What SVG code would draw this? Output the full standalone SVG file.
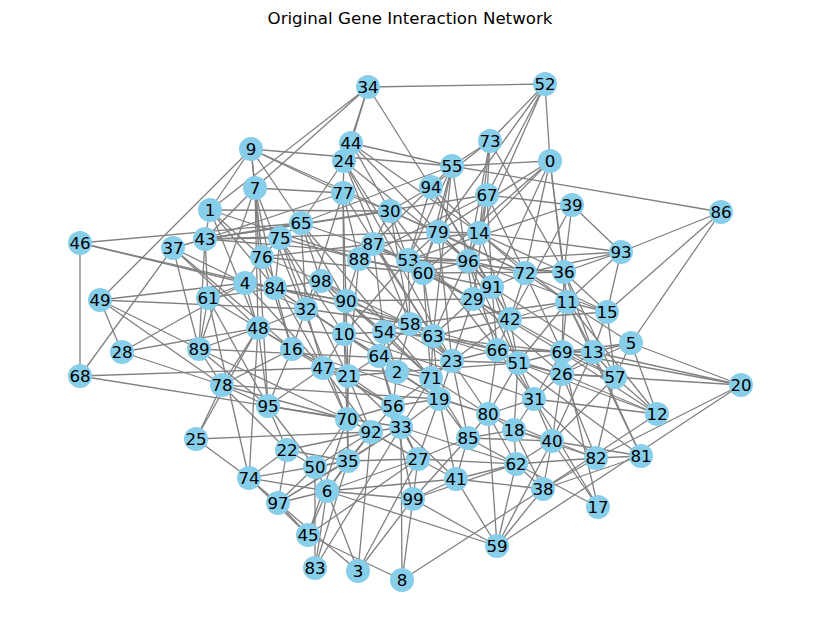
<svg xmlns="http://www.w3.org/2000/svg" width="819" height="642" viewBox="0 0 819 642">
<style>
.bg{fill:#ffffff}
.title{font-family:"DejaVu Sans","Liberation Sans",sans-serif;font-size:16.67px;fill:#000;text-anchor:middle}
#edges line{stroke:#808080;stroke-width:1.3}
.node circle{fill:#87CEEB}
.node text{font-family:"DejaVu Sans","Liberation Sans",sans-serif;font-size:16.67px;fill:#000;text-anchor:middle}
</style>
<rect class="bg" x="0" y="0" width="819" height="642"/>
<text class="title" x="410" y="24">Original Gene Interaction Network</text>
<g id="edges">
<line x1="368" y1="87" x2="545" y2="84"/>
<line x1="368" y1="87" x2="351" y2="143"/>
<line x1="368" y1="87" x2="344" y2="161"/>
<line x1="368" y1="87" x2="255" y2="188"/>
<line x1="368" y1="87" x2="210" y2="210"/>
<line x1="368" y1="87" x2="431" y2="187"/>
<line x1="545" y1="84" x2="550" y2="161"/>
<line x1="545" y1="84" x2="490" y2="141"/>
<line x1="545" y1="84" x2="487" y2="195"/>
<line x1="545" y1="84" x2="438" y2="232"/>
<line x1="545" y1="84" x2="479" y2="233"/>
<line x1="490" y1="141" x2="452" y2="166"/>
<line x1="490" y1="141" x2="431" y2="187"/>
<line x1="490" y1="141" x2="487" y2="195"/>
<line x1="490" y1="141" x2="479" y2="233"/>
<line x1="490" y1="141" x2="468" y2="261"/>
<line x1="490" y1="141" x2="564" y2="272"/>
<line x1="550" y1="161" x2="452" y2="166"/>
<line x1="550" y1="161" x2="479" y2="233"/>
<line x1="550" y1="161" x2="438" y2="232"/>
<line x1="550" y1="161" x2="423" y2="273"/>
<line x1="550" y1="161" x2="564" y2="272"/>
<line x1="550" y1="161" x2="567" y2="302"/>
<line x1="550" y1="161" x2="525" y2="273"/>
<line x1="550" y1="161" x2="492" y2="287"/>
<line x1="721" y1="212" x2="452" y2="166"/>
<line x1="721" y1="212" x2="621" y2="252"/>
<line x1="721" y1="212" x2="607" y2="312"/>
<line x1="721" y1="212" x2="631" y2="343"/>
<line x1="621" y1="252" x2="564" y2="272"/>
<line x1="621" y1="252" x2="525" y2="273"/>
<line x1="621" y1="252" x2="479" y2="233"/>
<line x1="621" y1="252" x2="567" y2="302"/>
<line x1="621" y1="252" x2="607" y2="312"/>
<line x1="621" y1="252" x2="468" y2="261"/>
<line x1="572" y1="205" x2="487" y2="195"/>
<line x1="572" y1="205" x2="564" y2="272"/>
<line x1="572" y1="205" x2="621" y2="252"/>
<line x1="572" y1="205" x2="408" y2="260"/>
<line x1="572" y1="205" x2="510" y2="319"/>
<line x1="741" y1="385" x2="631" y2="343"/>
<line x1="741" y1="385" x2="562" y2="352"/>
<line x1="741" y1="385" x2="562" y2="374"/>
<line x1="741" y1="385" x2="596" y2="458"/>
<line x1="741" y1="385" x2="497" y2="546"/>
<line x1="741" y1="385" x2="593" y2="352"/>
<line x1="641" y1="456" x2="596" y2="458"/>
<line x1="641" y1="456" x2="552" y2="441"/>
<line x1="641" y1="456" x2="543" y2="489"/>
<line x1="641" y1="456" x2="567" y2="302"/>
<line x1="641" y1="456" x2="593" y2="352"/>
<line x1="657" y1="414" x2="543" y2="489"/>
<line x1="657" y1="414" x2="615" y2="377"/>
<line x1="657" y1="414" x2="631" y2="343"/>
<line x1="657" y1="414" x2="562" y2="352"/>
<line x1="657" y1="414" x2="562" y2="374"/>
<line x1="657" y1="414" x2="567" y2="302"/>
<line x1="657" y1="414" x2="534" y2="399"/>
<line x1="598" y1="507" x2="534" y2="399"/>
<line x1="598" y1="507" x2="562" y2="352"/>
<line x1="598" y1="507" x2="516" y2="464"/>
<line x1="497" y1="546" x2="413" y2="499"/>
<line x1="497" y1="546" x2="456" y2="479"/>
<line x1="497" y1="546" x2="488" y2="414"/>
<line x1="497" y1="546" x2="516" y2="464"/>
<line x1="497" y1="546" x2="543" y2="489"/>
<line x1="497" y1="546" x2="552" y2="441"/>
<line x1="497" y1="546" x2="327" y2="491"/>
<line x1="402" y1="580" x2="543" y2="489"/>
<line x1="402" y1="580" x2="413" y2="499"/>
<line x1="402" y1="580" x2="308" y2="535"/>
<line x1="402" y1="580" x2="401" y2="427"/>
<line x1="358" y1="571" x2="278" y2="503"/>
<line x1="358" y1="571" x2="327" y2="491"/>
<line x1="358" y1="571" x2="418" y2="459"/>
<line x1="358" y1="571" x2="371" y2="432"/>
<line x1="315" y1="568" x2="315" y2="467"/>
<line x1="315" y1="568" x2="348" y2="461"/>
<line x1="315" y1="568" x2="401" y2="427"/>
<line x1="308" y1="535" x2="249" y2="478"/>
<line x1="308" y1="535" x2="278" y2="503"/>
<line x1="308" y1="535" x2="327" y2="491"/>
<line x1="308" y1="535" x2="347" y2="419"/>
<line x1="278" y1="503" x2="287" y2="450"/>
<line x1="278" y1="503" x2="315" y2="467"/>
<line x1="278" y1="503" x2="327" y2="491"/>
<line x1="278" y1="503" x2="348" y2="461"/>
<line x1="278" y1="503" x2="249" y2="478"/>
<line x1="249" y1="478" x2="196" y2="439"/>
<line x1="249" y1="478" x2="287" y2="450"/>
<line x1="249" y1="478" x2="327" y2="491"/>
<line x1="249" y1="478" x2="258" y2="328"/>
<line x1="249" y1="478" x2="208" y2="298"/>
<line x1="196" y1="439" x2="222" y2="385"/>
<line x1="196" y1="439" x2="371" y2="432"/>
<line x1="196" y1="439" x2="258" y2="328"/>
<line x1="80" y1="376" x2="80" y2="243"/>
<line x1="80" y1="376" x2="173" y2="248"/>
<line x1="80" y1="376" x2="323" y2="368"/>
<line x1="80" y1="376" x2="268" y2="406"/>
<line x1="122" y1="352" x2="100" y2="300"/>
<line x1="122" y1="352" x2="245" y2="283"/>
<line x1="122" y1="352" x2="258" y2="328"/>
<line x1="122" y1="352" x2="222" y2="385"/>
<line x1="100" y1="300" x2="251" y2="149"/>
<line x1="100" y1="300" x2="306" y2="309"/>
<line x1="100" y1="300" x2="199" y2="349"/>
<line x1="100" y1="300" x2="222" y2="385"/>
<line x1="100" y1="300" x2="245" y2="283"/>
<line x1="80" y1="243" x2="301" y2="223"/>
<line x1="80" y1="243" x2="245" y2="283"/>
<line x1="80" y1="243" x2="275" y2="288"/>
<line x1="173" y1="248" x2="205" y2="239"/>
<line x1="173" y1="248" x2="199" y2="349"/>
<line x1="173" y1="248" x2="258" y2="328"/>
<line x1="173" y1="248" x2="292" y2="349"/>
<line x1="210" y1="210" x2="251" y2="149"/>
<line x1="210" y1="210" x2="205" y2="239"/>
<line x1="210" y1="210" x2="390" y2="211"/>
<line x1="210" y1="210" x2="262" y2="257"/>
<line x1="210" y1="210" x2="275" y2="288"/>
<line x1="210" y1="210" x2="258" y2="328"/>
<line x1="251" y1="149" x2="452" y2="166"/>
<line x1="251" y1="149" x2="301" y2="223"/>
<line x1="251" y1="149" x2="390" y2="211"/>
<line x1="251" y1="149" x2="343" y2="193"/>
<line x1="251" y1="149" x2="255" y2="188"/>
<line x1="255" y1="188" x2="343" y2="193"/>
<line x1="255" y1="188" x2="205" y2="239"/>
<line x1="255" y1="188" x2="262" y2="257"/>
<line x1="255" y1="188" x2="275" y2="288"/>
<line x1="255" y1="188" x2="258" y2="328"/>
<line x1="255" y1="188" x2="268" y2="406"/>
<line x1="255" y1="188" x2="199" y2="349"/>
<line x1="351" y1="143" x2="452" y2="166"/>
<line x1="351" y1="143" x2="479" y2="233"/>
<line x1="351" y1="143" x2="390" y2="211"/>
<line x1="351" y1="143" x2="438" y2="232"/>
<line x1="344" y1="161" x2="343" y2="193"/>
<line x1="344" y1="161" x2="301" y2="223"/>
<line x1="344" y1="161" x2="408" y2="260"/>
<line x1="344" y1="161" x2="468" y2="261"/>
<line x1="344" y1="161" x2="410" y2="324"/>
<line x1="452" y1="166" x2="431" y2="187"/>
<line x1="452" y1="166" x2="438" y2="232"/>
<line x1="452" y1="166" x2="423" y2="273"/>
<line x1="452" y1="166" x2="433" y2="336"/>
<line x1="452" y1="166" x2="473" y2="299"/>
<line x1="452" y1="166" x2="408" y2="260"/>
<line x1="452" y1="166" x2="301" y2="223"/>
<line x1="431" y1="187" x2="390" y2="211"/>
<line x1="431" y1="187" x2="373" y2="244"/>
<line x1="431" y1="187" x2="408" y2="260"/>
<line x1="431" y1="187" x2="479" y2="233"/>
<line x1="431" y1="187" x2="492" y2="287"/>
<line x1="431" y1="187" x2="510" y2="319"/>
<line x1="487" y1="195" x2="479" y2="233"/>
<line x1="487" y1="195" x2="492" y2="287"/>
<line x1="487" y1="195" x2="525" y2="273"/>
<line x1="487" y1="195" x2="205" y2="239"/>
<line x1="487" y1="195" x2="359" y2="259"/>
<line x1="487" y1="195" x2="473" y2="299"/>
<line x1="343" y1="193" x2="359" y2="259"/>
<line x1="343" y1="193" x2="346" y2="301"/>
<line x1="343" y1="193" x2="306" y2="309"/>
<line x1="343" y1="193" x2="344" y2="334"/>
<line x1="343" y1="193" x2="390" y2="211"/>
<line x1="343" y1="193" x2="205" y2="239"/>
<line x1="390" y1="211" x2="373" y2="244"/>
<line x1="390" y1="211" x2="408" y2="260"/>
<line x1="390" y1="211" x2="438" y2="232"/>
<line x1="390" y1="211" x2="205" y2="239"/>
<line x1="390" y1="211" x2="525" y2="273"/>
<line x1="390" y1="211" x2="410" y2="324"/>
<line x1="301" y1="223" x2="280" y2="238"/>
<line x1="301" y1="223" x2="205" y2="239"/>
<line x1="301" y1="223" x2="321" y2="281"/>
<line x1="301" y1="223" x2="306" y2="309"/>
<line x1="301" y1="223" x2="346" y2="301"/>
<line x1="301" y1="223" x2="408" y2="260"/>
<line x1="205" y1="239" x2="280" y2="238"/>
<line x1="205" y1="239" x2="468" y2="261"/>
<line x1="205" y1="239" x2="438" y2="232"/>
<line x1="205" y1="239" x2="208" y2="298"/>
<line x1="205" y1="239" x2="199" y2="349"/>
<line x1="438" y1="232" x2="479" y2="233"/>
<line x1="438" y1="232" x2="468" y2="261"/>
<line x1="438" y1="232" x2="408" y2="260"/>
<line x1="438" y1="232" x2="492" y2="287"/>
<line x1="438" y1="232" x2="452" y2="361"/>
<line x1="438" y1="232" x2="379" y2="356"/>
<line x1="479" y1="233" x2="468" y2="261"/>
<line x1="479" y1="233" x2="525" y2="273"/>
<line x1="479" y1="233" x2="567" y2="302"/>
<line x1="479" y1="233" x2="510" y2="319"/>
<line x1="479" y1="233" x2="564" y2="272"/>
<line x1="479" y1="233" x2="433" y2="336"/>
<line x1="280" y1="238" x2="262" y2="257"/>
<line x1="280" y1="238" x2="275" y2="288"/>
<line x1="280" y1="238" x2="306" y2="309"/>
<line x1="280" y1="238" x2="344" y2="334"/>
<line x1="280" y1="238" x2="359" y2="259"/>
<line x1="373" y1="244" x2="359" y2="259"/>
<line x1="373" y1="244" x2="408" y2="260"/>
<line x1="373" y1="244" x2="433" y2="336"/>
<line x1="373" y1="244" x2="384" y2="332"/>
<line x1="373" y1="244" x2="479" y2="233"/>
<line x1="262" y1="257" x2="245" y2="283"/>
<line x1="262" y1="257" x2="321" y2="281"/>
<line x1="262" y1="257" x2="292" y2="349"/>
<line x1="262" y1="257" x2="323" y2="368"/>
<line x1="262" y1="257" x2="423" y2="273"/>
<line x1="262" y1="257" x2="373" y2="244"/>
<line x1="359" y1="259" x2="423" y2="273"/>
<line x1="359" y1="259" x2="346" y2="301"/>
<line x1="359" y1="259" x2="452" y2="361"/>
<line x1="359" y1="259" x2="348" y2="376"/>
<line x1="359" y1="259" x2="492" y2="287"/>
<line x1="408" y1="260" x2="423" y2="273"/>
<line x1="408" y1="260" x2="468" y2="261"/>
<line x1="408" y1="260" x2="473" y2="299"/>
<line x1="408" y1="260" x2="410" y2="324"/>
<line x1="408" y1="260" x2="344" y2="334"/>
<line x1="423" y1="273" x2="468" y2="261"/>
<line x1="423" y1="273" x2="473" y2="299"/>
<line x1="423" y1="273" x2="433" y2="336"/>
<line x1="423" y1="273" x2="431" y2="378"/>
<line x1="423" y1="273" x2="564" y2="272"/>
<line x1="468" y1="261" x2="492" y2="287"/>
<line x1="468" y1="261" x2="525" y2="273"/>
<line x1="468" y1="261" x2="497" y2="350"/>
<line x1="468" y1="261" x2="518" y2="363"/>
<line x1="525" y1="273" x2="564" y2="272"/>
<line x1="525" y1="273" x2="567" y2="302"/>
<line x1="525" y1="273" x2="510" y2="319"/>
<line x1="525" y1="273" x2="492" y2="287"/>
<line x1="525" y1="273" x2="607" y2="312"/>
<line x1="564" y1="272" x2="567" y2="302"/>
<line x1="564" y1="272" x2="607" y2="312"/>
<line x1="564" y1="272" x2="562" y2="352"/>
<line x1="564" y1="272" x2="615" y2="377"/>
<line x1="564" y1="272" x2="593" y2="352"/>
<line x1="245" y1="283" x2="275" y2="288"/>
<line x1="245" y1="283" x2="258" y2="328"/>
<line x1="245" y1="283" x2="208" y2="298"/>
<line x1="245" y1="283" x2="306" y2="309"/>
<line x1="245" y1="283" x2="346" y2="301"/>
<line x1="275" y1="288" x2="321" y2="281"/>
<line x1="275" y1="288" x2="306" y2="309"/>
<line x1="275" y1="288" x2="346" y2="301"/>
<line x1="275" y1="288" x2="292" y2="349"/>
<line x1="275" y1="288" x2="410" y2="324"/>
<line x1="321" y1="281" x2="346" y2="301"/>
<line x1="321" y1="281" x2="306" y2="309"/>
<line x1="321" y1="281" x2="384" y2="332"/>
<line x1="321" y1="281" x2="397" y2="372"/>
<line x1="321" y1="281" x2="433" y2="336"/>
<line x1="492" y1="287" x2="473" y2="299"/>
<line x1="492" y1="287" x2="510" y2="319"/>
<line x1="492" y1="287" x2="497" y2="350"/>
<line x1="492" y1="287" x2="518" y2="363"/>
<line x1="473" y1="299" x2="510" y2="319"/>
<line x1="473" y1="299" x2="433" y2="336"/>
<line x1="473" y1="299" x2="452" y2="361"/>
<line x1="473" y1="299" x2="562" y2="352"/>
<line x1="473" y1="299" x2="562" y2="374"/>
<line x1="208" y1="298" x2="199" y2="349"/>
<line x1="208" y1="298" x2="258" y2="328"/>
<line x1="208" y1="298" x2="268" y2="406"/>
<line x1="208" y1="298" x2="275" y2="288"/>
<line x1="346" y1="301" x2="344" y2="334"/>
<line x1="346" y1="301" x2="384" y2="332"/>
<line x1="346" y1="301" x2="410" y2="324"/>
<line x1="346" y1="301" x2="348" y2="376"/>
<line x1="346" y1="301" x2="473" y2="299"/>
<line x1="306" y1="309" x2="258" y2="328"/>
<line x1="306" y1="309" x2="344" y2="334"/>
<line x1="306" y1="309" x2="292" y2="349"/>
<line x1="306" y1="309" x2="323" y2="368"/>
<line x1="306" y1="309" x2="410" y2="324"/>
<line x1="567" y1="302" x2="607" y2="312"/>
<line x1="567" y1="302" x2="510" y2="319"/>
<line x1="567" y1="302" x2="562" y2="352"/>
<line x1="567" y1="302" x2="593" y2="352"/>
<line x1="567" y1="302" x2="518" y2="363"/>
<line x1="607" y1="312" x2="593" y2="352"/>
<line x1="607" y1="312" x2="615" y2="377"/>
<line x1="607" y1="312" x2="510" y2="319"/>
<line x1="510" y1="319" x2="497" y2="350"/>
<line x1="510" y1="319" x2="518" y2="363"/>
<line x1="510" y1="319" x2="433" y2="336"/>
<line x1="510" y1="319" x2="452" y2="361"/>
<line x1="258" y1="328" x2="292" y2="349"/>
<line x1="258" y1="328" x2="199" y2="349"/>
<line x1="258" y1="328" x2="222" y2="385"/>
<line x1="258" y1="328" x2="268" y2="406"/>
<line x1="258" y1="328" x2="344" y2="334"/>
<line x1="410" y1="324" x2="384" y2="332"/>
<line x1="410" y1="324" x2="433" y2="336"/>
<line x1="410" y1="324" x2="379" y2="356"/>
<line x1="410" y1="324" x2="397" y2="372"/>
<line x1="410" y1="324" x2="452" y2="361"/>
<line x1="410" y1="324" x2="497" y2="350"/>
<line x1="384" y1="332" x2="344" y2="334"/>
<line x1="384" y1="332" x2="379" y2="356"/>
<line x1="384" y1="332" x2="397" y2="372"/>
<line x1="384" y1="332" x2="431" y2="378"/>
<line x1="384" y1="332" x2="433" y2="336"/>
<line x1="344" y1="334" x2="379" y2="356"/>
<line x1="344" y1="334" x2="323" y2="368"/>
<line x1="344" y1="334" x2="348" y2="376"/>
<line x1="344" y1="334" x2="347" y2="419"/>
<line x1="433" y1="336" x2="452" y2="361"/>
<line x1="433" y1="336" x2="431" y2="378"/>
<line x1="433" y1="336" x2="497" y2="350"/>
<line x1="433" y1="336" x2="439" y2="399"/>
<line x1="631" y1="343" x2="593" y2="352"/>
<line x1="631" y1="343" x2="615" y2="377"/>
<line x1="631" y1="343" x2="567" y2="302"/>
<line x1="631" y1="343" x2="562" y2="352"/>
<line x1="631" y1="343" x2="562" y2="374"/>
<line x1="292" y1="349" x2="323" y2="368"/>
<line x1="292" y1="349" x2="222" y2="385"/>
<line x1="292" y1="349" x2="268" y2="406"/>
<line x1="292" y1="349" x2="348" y2="376"/>
<line x1="199" y1="349" x2="222" y2="385"/>
<line x1="199" y1="349" x2="268" y2="406"/>
<line x1="199" y1="349" x2="347" y2="419"/>
<line x1="379" y1="356" x2="397" y2="372"/>
<line x1="379" y1="356" x2="348" y2="376"/>
<line x1="379" y1="356" x2="393" y2="406"/>
<line x1="379" y1="356" x2="431" y2="378"/>
<line x1="379" y1="356" x2="401" y2="427"/>
<line x1="497" y1="350" x2="452" y2="361"/>
<line x1="497" y1="350" x2="518" y2="363"/>
<line x1="497" y1="350" x2="562" y2="352"/>
<line x1="497" y1="350" x2="488" y2="414"/>
<line x1="497" y1="350" x2="534" y2="399"/>
<line x1="452" y1="361" x2="431" y2="378"/>
<line x1="452" y1="361" x2="439" y2="399"/>
<line x1="452" y1="361" x2="518" y2="363"/>
<line x1="452" y1="361" x2="488" y2="414"/>
<line x1="452" y1="361" x2="468" y2="438"/>
<line x1="562" y1="352" x2="593" y2="352"/>
<line x1="562" y1="352" x2="518" y2="363"/>
<line x1="562" y1="352" x2="562" y2="374"/>
<line x1="562" y1="352" x2="534" y2="399"/>
<line x1="562" y1="352" x2="615" y2="377"/>
<line x1="593" y1="352" x2="562" y2="374"/>
<line x1="593" y1="352" x2="615" y2="377"/>
<line x1="593" y1="352" x2="552" y2="441"/>
<line x1="518" y1="363" x2="562" y2="374"/>
<line x1="518" y1="363" x2="534" y2="399"/>
<line x1="518" y1="363" x2="488" y2="414"/>
<line x1="518" y1="363" x2="514" y2="430"/>
<line x1="397" y1="372" x2="431" y2="378"/>
<line x1="397" y1="372" x2="393" y2="406"/>
<line x1="397" y1="372" x2="323" y2="368"/>
<line x1="397" y1="372" x2="348" y2="376"/>
<line x1="397" y1="372" x2="439" y2="399"/>
<line x1="323" y1="368" x2="348" y2="376"/>
<line x1="323" y1="368" x2="347" y2="419"/>
<line x1="323" y1="368" x2="268" y2="406"/>
<line x1="323" y1="368" x2="371" y2="432"/>
<line x1="348" y1="376" x2="347" y2="419"/>
<line x1="348" y1="376" x2="393" y2="406"/>
<line x1="348" y1="376" x2="371" y2="432"/>
<line x1="348" y1="376" x2="348" y2="461"/>
<line x1="431" y1="378" x2="439" y2="399"/>
<line x1="431" y1="378" x2="393" y2="406"/>
<line x1="431" y1="378" x2="488" y2="414"/>
<line x1="431" y1="378" x2="401" y2="427"/>
<line x1="562" y1="374" x2="615" y2="377"/>
<line x1="562" y1="374" x2="534" y2="399"/>
<line x1="562" y1="374" x2="552" y2="441"/>
<line x1="562" y1="374" x2="596" y2="458"/>
<line x1="615" y1="377" x2="596" y2="458"/>
<line x1="615" y1="377" x2="552" y2="441"/>
<line x1="222" y1="385" x2="268" y2="406"/>
<line x1="222" y1="385" x2="347" y2="419"/>
<line x1="222" y1="385" x2="287" y2="450"/>
<line x1="439" y1="399" x2="393" y2="406"/>
<line x1="439" y1="399" x2="401" y2="427"/>
<line x1="439" y1="399" x2="468" y2="438"/>
<line x1="439" y1="399" x2="418" y2="459"/>
<line x1="439" y1="399" x2="488" y2="414"/>
<line x1="534" y1="399" x2="488" y2="414"/>
<line x1="534" y1="399" x2="514" y2="430"/>
<line x1="534" y1="399" x2="552" y2="441"/>
<line x1="393" y1="406" x2="401" y2="427"/>
<line x1="393" y1="406" x2="371" y2="432"/>
<line x1="393" y1="406" x2="347" y2="419"/>
<line x1="393" y1="406" x2="418" y2="459"/>
<line x1="268" y1="406" x2="287" y2="450"/>
<line x1="268" y1="406" x2="347" y2="419"/>
<line x1="268" y1="406" x2="315" y2="467"/>
<line x1="488" y1="414" x2="468" y2="438"/>
<line x1="488" y1="414" x2="514" y2="430"/>
<line x1="488" y1="414" x2="516" y2="464"/>
<line x1="347" y1="419" x2="371" y2="432"/>
<line x1="347" y1="419" x2="348" y2="461"/>
<line x1="347" y1="419" x2="315" y2="467"/>
<line x1="401" y1="427" x2="371" y2="432"/>
<line x1="401" y1="427" x2="418" y2="459"/>
<line x1="401" y1="427" x2="348" y2="461"/>
<line x1="401" y1="427" x2="456" y2="479"/>
<line x1="371" y1="432" x2="348" y2="461"/>
<line x1="371" y1="432" x2="418" y2="459"/>
<line x1="514" y1="430" x2="552" y2="441"/>
<line x1="514" y1="430" x2="516" y2="464"/>
<line x1="514" y1="430" x2="468" y2="438"/>
<line x1="552" y1="441" x2="516" y2="464"/>
<line x1="552" y1="441" x2="596" y2="458"/>
<line x1="552" y1="441" x2="543" y2="489"/>
<line x1="468" y1="438" x2="418" y2="459"/>
<line x1="468" y1="438" x2="456" y2="479"/>
<line x1="468" y1="438" x2="516" y2="464"/>
<line x1="287" y1="450" x2="315" y2="467"/>
<line x1="287" y1="450" x2="348" y2="461"/>
<line x1="418" y1="459" x2="456" y2="479"/>
<line x1="418" y1="459" x2="413" y2="499"/>
<line x1="418" y1="459" x2="348" y2="461"/>
<line x1="418" y1="459" x2="327" y2="491"/>
<line x1="348" y1="461" x2="315" y2="467"/>
<line x1="348" y1="461" x2="327" y2="491"/>
<line x1="516" y1="464" x2="543" y2="489"/>
<line x1="516" y1="464" x2="596" y2="458"/>
<line x1="596" y1="458" x2="543" y2="489"/>
<line x1="315" y1="467" x2="327" y2="491"/>
<line x1="456" y1="479" x2="413" y2="499"/>
<line x1="456" y1="479" x2="543" y2="489"/>
<line x1="327" y1="491" x2="413" y2="499"/>
<line x1="210" y1="210" x2="359" y2="259"/>
<line x1="251" y1="149" x2="262" y2="257"/>
<line x1="173" y1="248" x2="245" y2="283"/>
<line x1="255" y1="188" x2="347" y2="419"/>
<line x1="301" y1="223" x2="431" y2="378"/>
<line x1="344" y1="161" x2="452" y2="361"/>
<line x1="390" y1="211" x2="497" y2="350"/>
<line x1="343" y1="193" x2="433" y2="336"/>
<line x1="280" y1="238" x2="348" y2="376"/>
<line x1="275" y1="288" x2="439" y2="399"/>
<line x1="245" y1="283" x2="323" y2="368"/>
<line x1="199" y1="349" x2="452" y2="361"/>
<line x1="222" y1="385" x2="439" y2="399"/>
<line x1="268" y1="406" x2="401" y2="427"/>
<line x1="258" y1="328" x2="393" y2="406"/>
<line x1="292" y1="349" x2="488" y2="414"/>
<line x1="344" y1="334" x2="534" y2="399"/>
<line x1="397" y1="372" x2="518" y2="363"/>
<line x1="384" y1="332" x2="562" y2="352"/>
<line x1="410" y1="324" x2="567" y2="302"/>
<line x1="433" y1="336" x2="562" y2="374"/>
<line x1="473" y1="299" x2="534" y2="399"/>
<line x1="423" y1="273" x2="510" y2="319"/>
<line x1="492" y1="287" x2="593" y2="352"/>
<line x1="525" y1="273" x2="562" y2="352"/>
<line x1="468" y1="261" x2="607" y2="312"/>
<line x1="408" y1="260" x2="564" y2="272"/>
<line x1="438" y1="232" x2="525" y2="273"/>
<line x1="373" y1="244" x2="473" y2="299"/>
<line x1="321" y1="281" x2="452" y2="361"/>
<line x1="346" y1="301" x2="431" y2="378"/>
<line x1="306" y1="309" x2="379" y2="356"/>
<line x1="323" y1="368" x2="393" y2="406"/>
<line x1="348" y1="376" x2="401" y2="427"/>
<line x1="431" y1="378" x2="468" y2="438"/>
<line x1="439" y1="399" x2="456" y2="479"/>
<line x1="393" y1="406" x2="413" y2="499"/>
<line x1="347" y1="419" x2="418" y2="459"/>
<line x1="371" y1="432" x2="327" y2="491"/>
<line x1="401" y1="427" x2="516" y2="464"/>
<line x1="468" y1="438" x2="552" y2="441"/>
<line x1="418" y1="459" x2="516" y2="464"/>
<line x1="488" y1="414" x2="552" y2="441"/>
<line x1="514" y1="430" x2="596" y2="458"/>
<line x1="534" y1="399" x2="596" y2="458"/>
<line x1="497" y1="350" x2="641" y2="456"/>
<line x1="518" y1="363" x2="657" y2="414"/>
<line x1="510" y1="319" x2="615" y2="377"/>
<line x1="497" y1="350" x2="593" y2="352"/>
<line x1="287" y1="450" x2="371" y2="432"/>
<line x1="315" y1="467" x2="371" y2="432"/>
<line x1="249" y1="478" x2="348" y2="461"/>
<line x1="278" y1="503" x2="401" y2="427"/>
<line x1="308" y1="535" x2="418" y2="459"/>
<line x1="315" y1="568" x2="327" y2="491"/>
<line x1="358" y1="571" x2="413" y2="499"/>
<line x1="413" y1="499" x2="468" y2="438"/>
<line x1="413" y1="499" x2="516" y2="464"/>
<line x1="456" y1="479" x2="516" y2="464"/>
<line x1="327" y1="491" x2="456" y2="479"/>
<line x1="543" y1="489" x2="514" y2="430"/>
<line x1="598" y1="507" x2="552" y2="441"/>
</g>
<g id="node-0" class="node"><circle cx="550" cy="161" r="12"/><text x="550" y="167">0</text></g>
<g id="node-1" class="node"><circle cx="210" cy="210" r="12"/><text x="210" y="216">1</text></g>
<g id="node-2" class="node"><circle cx="397" cy="372" r="12"/><text x="397" y="378">2</text></g>
<g id="node-3" class="node"><circle cx="358" cy="571" r="12"/><text x="358" y="577">3</text></g>
<g id="node-4" class="node"><circle cx="245" cy="283" r="12"/><text x="245" y="289">4</text></g>
<g id="node-5" class="node"><circle cx="631" cy="343" r="12"/><text x="631" y="349">5</text></g>
<g id="node-6" class="node"><circle cx="327" cy="491" r="12"/><text x="327" y="497">6</text></g>
<g id="node-7" class="node"><circle cx="255" cy="188" r="12"/><text x="255" y="194">7</text></g>
<g id="node-8" class="node"><circle cx="402" cy="580" r="12"/><text x="402" y="586">8</text></g>
<g id="node-9" class="node"><circle cx="251" cy="149" r="12"/><text x="251" y="155">9</text></g>
<g id="node-10" class="node"><circle cx="344" cy="334" r="12"/><text x="344" y="340">10</text></g>
<g id="node-11" class="node"><circle cx="567" cy="302" r="12"/><text x="567" y="308">11</text></g>
<g id="node-12" class="node"><circle cx="657" cy="414" r="12"/><text x="657" y="420">12</text></g>
<g id="node-13" class="node"><circle cx="593" cy="352" r="12"/><text x="593" y="358">13</text></g>
<g id="node-14" class="node"><circle cx="479" cy="233" r="12"/><text x="479" y="239">14</text></g>
<g id="node-15" class="node"><circle cx="607" cy="312" r="12"/><text x="607" y="318">15</text></g>
<g id="node-16" class="node"><circle cx="292" cy="349" r="12"/><text x="292" y="355">16</text></g>
<g id="node-17" class="node"><circle cx="598" cy="507" r="12"/><text x="598" y="513">17</text></g>
<g id="node-18" class="node"><circle cx="514" cy="430" r="12"/><text x="514" y="436">18</text></g>
<g id="node-19" class="node"><circle cx="439" cy="399" r="12"/><text x="439" y="405">19</text></g>
<g id="node-20" class="node"><circle cx="741" cy="385" r="12"/><text x="741" y="391">20</text></g>
<g id="node-21" class="node"><circle cx="348" cy="376" r="12"/><text x="348" y="382">21</text></g>
<g id="node-22" class="node"><circle cx="287" cy="450" r="12"/><text x="287" y="456">22</text></g>
<g id="node-23" class="node"><circle cx="452" cy="361" r="12"/><text x="452" y="367">23</text></g>
<g id="node-24" class="node"><circle cx="344" cy="161" r="12"/><text x="344" y="167">24</text></g>
<g id="node-25" class="node"><circle cx="196" cy="439" r="12"/><text x="196" y="445">25</text></g>
<g id="node-26" class="node"><circle cx="562" cy="374" r="12"/><text x="562" y="380">26</text></g>
<g id="node-27" class="node"><circle cx="418" cy="459" r="12"/><text x="418" y="465">27</text></g>
<g id="node-28" class="node"><circle cx="122" cy="352" r="12"/><text x="122" y="358">28</text></g>
<g id="node-29" class="node"><circle cx="473" cy="299" r="12"/><text x="473" y="305">29</text></g>
<g id="node-30" class="node"><circle cx="390" cy="211" r="12"/><text x="390" y="217">30</text></g>
<g id="node-31" class="node"><circle cx="534" cy="399" r="12"/><text x="534" y="405">31</text></g>
<g id="node-32" class="node"><circle cx="306" cy="309" r="12"/><text x="306" y="315">32</text></g>
<g id="node-33" class="node"><circle cx="401" cy="427" r="12"/><text x="401" y="433">33</text></g>
<g id="node-34" class="node"><circle cx="368" cy="87" r="12"/><text x="368" y="93">34</text></g>
<g id="node-35" class="node"><circle cx="348" cy="461" r="12"/><text x="348" y="467">35</text></g>
<g id="node-36" class="node"><circle cx="564" cy="272" r="12"/><text x="564" y="278">36</text></g>
<g id="node-37" class="node"><circle cx="173" cy="248" r="12"/><text x="173" y="254">37</text></g>
<g id="node-38" class="node"><circle cx="543" cy="489" r="12"/><text x="543" y="495">38</text></g>
<g id="node-39" class="node"><circle cx="572" cy="205" r="12"/><text x="572" y="211">39</text></g>
<g id="node-40" class="node"><circle cx="552" cy="441" r="12"/><text x="552" y="447">40</text></g>
<g id="node-41" class="node"><circle cx="456" cy="479" r="12"/><text x="456" y="485">41</text></g>
<g id="node-42" class="node"><circle cx="510" cy="319" r="12"/><text x="510" y="325">42</text></g>
<g id="node-43" class="node"><circle cx="205" cy="239" r="12"/><text x="205" y="245">43</text></g>
<g id="node-44" class="node"><circle cx="351" cy="143" r="12"/><text x="351" y="149">44</text></g>
<g id="node-45" class="node"><circle cx="308" cy="535" r="12"/><text x="308" y="541">45</text></g>
<g id="node-46" class="node"><circle cx="80" cy="243" r="12"/><text x="80" y="249">46</text></g>
<g id="node-47" class="node"><circle cx="323" cy="368" r="12"/><text x="323" y="374">47</text></g>
<g id="node-48" class="node"><circle cx="258" cy="328" r="12"/><text x="258" y="334">48</text></g>
<g id="node-49" class="node"><circle cx="100" cy="300" r="12"/><text x="100" y="306">49</text></g>
<g id="node-50" class="node"><circle cx="315" cy="467" r="12"/><text x="315" y="473">50</text></g>
<g id="node-51" class="node"><circle cx="518" cy="363" r="12"/><text x="518" y="369">51</text></g>
<g id="node-52" class="node"><circle cx="545" cy="84" r="12"/><text x="545" y="90">52</text></g>
<g id="node-53" class="node"><circle cx="408" cy="260" r="12"/><text x="408" y="266">53</text></g>
<g id="node-54" class="node"><circle cx="384" cy="332" r="12"/><text x="384" y="338">54</text></g>
<g id="node-55" class="node"><circle cx="452" cy="166" r="12"/><text x="452" y="172">55</text></g>
<g id="node-56" class="node"><circle cx="393" cy="406" r="12"/><text x="393" y="412">56</text></g>
<g id="node-57" class="node"><circle cx="615" cy="377" r="12"/><text x="615" y="383">57</text></g>
<g id="node-58" class="node"><circle cx="410" cy="324" r="12"/><text x="410" y="330">58</text></g>
<g id="node-59" class="node"><circle cx="497" cy="546" r="12"/><text x="497" y="552">59</text></g>
<g id="node-60" class="node"><circle cx="423" cy="273" r="12"/><text x="423" y="279">60</text></g>
<g id="node-61" class="node"><circle cx="208" cy="298" r="12"/><text x="208" y="304">61</text></g>
<g id="node-62" class="node"><circle cx="516" cy="464" r="12"/><text x="516" y="470">62</text></g>
<g id="node-63" class="node"><circle cx="433" cy="336" r="12"/><text x="433" y="342">63</text></g>
<g id="node-64" class="node"><circle cx="379" cy="356" r="12"/><text x="379" y="362">64</text></g>
<g id="node-65" class="node"><circle cx="301" cy="223" r="12"/><text x="301" y="229">65</text></g>
<g id="node-66" class="node"><circle cx="497" cy="350" r="12"/><text x="497" y="356">66</text></g>
<g id="node-67" class="node"><circle cx="487" cy="195" r="12"/><text x="487" y="201">67</text></g>
<g id="node-68" class="node"><circle cx="80" cy="376" r="12"/><text x="80" y="382">68</text></g>
<g id="node-69" class="node"><circle cx="562" cy="352" r="12"/><text x="562" y="358">69</text></g>
<g id="node-70" class="node"><circle cx="347" cy="419" r="12"/><text x="347" y="425">70</text></g>
<g id="node-71" class="node"><circle cx="431" cy="378" r="12"/><text x="431" y="384">71</text></g>
<g id="node-72" class="node"><circle cx="525" cy="273" r="12"/><text x="525" y="279">72</text></g>
<g id="node-73" class="node"><circle cx="490" cy="141" r="12"/><text x="490" y="147">73</text></g>
<g id="node-74" class="node"><circle cx="249" cy="478" r="12"/><text x="249" y="484">74</text></g>
<g id="node-75" class="node"><circle cx="280" cy="238" r="12"/><text x="280" y="244">75</text></g>
<g id="node-76" class="node"><circle cx="262" cy="257" r="12"/><text x="262" y="263">76</text></g>
<g id="node-77" class="node"><circle cx="343" cy="193" r="12"/><text x="343" y="199">77</text></g>
<g id="node-78" class="node"><circle cx="222" cy="385" r="12"/><text x="222" y="391">78</text></g>
<g id="node-79" class="node"><circle cx="438" cy="232" r="12"/><text x="438" y="238">79</text></g>
<g id="node-80" class="node"><circle cx="488" cy="414" r="12"/><text x="488" y="420">80</text></g>
<g id="node-81" class="node"><circle cx="641" cy="456" r="12"/><text x="641" y="462">81</text></g>
<g id="node-82" class="node"><circle cx="596" cy="458" r="12"/><text x="596" y="464">82</text></g>
<g id="node-83" class="node"><circle cx="315" cy="568" r="12"/><text x="315" y="574">83</text></g>
<g id="node-84" class="node"><circle cx="275" cy="288" r="12"/><text x="275" y="294">84</text></g>
<g id="node-85" class="node"><circle cx="468" cy="438" r="12"/><text x="468" y="444">85</text></g>
<g id="node-86" class="node"><circle cx="721" cy="212" r="12"/><text x="721" y="218">86</text></g>
<g id="node-87" class="node"><circle cx="373" cy="244" r="12"/><text x="373" y="250">87</text></g>
<g id="node-88" class="node"><circle cx="359" cy="259" r="12"/><text x="359" y="265">88</text></g>
<g id="node-89" class="node"><circle cx="199" cy="349" r="12"/><text x="199" y="355">89</text></g>
<g id="node-90" class="node"><circle cx="346" cy="301" r="12"/><text x="346" y="307">90</text></g>
<g id="node-91" class="node"><circle cx="492" cy="287" r="12"/><text x="492" y="293">91</text></g>
<g id="node-92" class="node"><circle cx="371" cy="432" r="12"/><text x="371" y="438">92</text></g>
<g id="node-93" class="node"><circle cx="621" cy="252" r="12"/><text x="621" y="258">93</text></g>
<g id="node-94" class="node"><circle cx="431" cy="187" r="12"/><text x="431" y="193">94</text></g>
<g id="node-95" class="node"><circle cx="268" cy="406" r="12"/><text x="268" y="412">95</text></g>
<g id="node-96" class="node"><circle cx="468" cy="261" r="12"/><text x="468" y="267">96</text></g>
<g id="node-97" class="node"><circle cx="278" cy="503" r="12"/><text x="278" y="509">97</text></g>
<g id="node-98" class="node"><circle cx="321" cy="281" r="12"/><text x="321" y="287">98</text></g>
<g id="node-99" class="node"><circle cx="413" cy="499" r="12"/><text x="413" y="505">99</text></g>
</svg>
